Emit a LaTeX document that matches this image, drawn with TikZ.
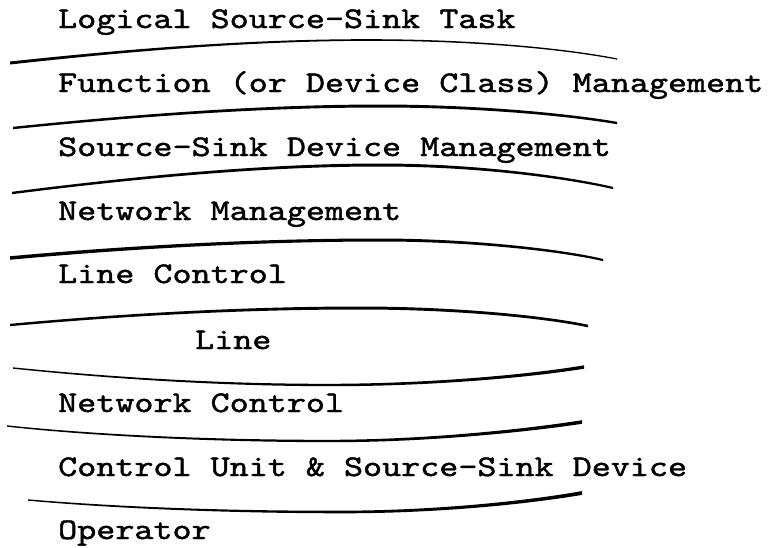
\documentclass[tikz,border=0pt]{standalone}
\usepackage{fontspec}
\newfontfamily\typewr{lmmono10-regular.otf}[FakeStretch=1.21, FakeBold=1.4]

% A hand-drawn separator, filled between two offset copies of the curve
% a -- (c,e) -- p -- (f,g) -- b, with stroke widths #2 at a, #3 at p, #4 at b.
\newcommand\sepline[4]{%
  \pgfmathsetmacro\sepwA{#2/2}\pgfmathsetmacro\sepwP{#3/2}\pgfmathsetmacro\sepwB{#4/2}%
  \pgfmathsetmacro\sepwC{(2*#2+#3)/6}\pgfmathsetmacro\sepwE{(#2+2*#3)/6}%
  \pgfmathsetmacro\sepwF{(2*#3+#4)/6}\pgfmathsetmacro\sepwG{(#3+2*#4)/6}%
  \fill[ink]
    ([yshift=\sepwA pt]a#1) .. controls ([yshift=\sepwC pt]c#1) and ([yshift=\sepwE pt]e#1) .. ([yshift=\sepwP pt]p#1)
    .. controls ([yshift=\sepwF pt]f#1) and ([yshift=\sepwG pt]g#1) .. ([yshift=\sepwB pt]b#1)
    -- ([yshift=-\sepwB pt]b#1) .. controls ([yshift=-\sepwG pt]g#1) and ([yshift=-\sepwF pt]f#1) .. ([yshift=-\sepwP pt]p#1)
    .. controls ([yshift=-\sepwE pt]e#1) and ([yshift=-\sepwC pt]c#1) .. ([yshift=-\sepwA pt]a#1) -- cycle;}

\begin{document}
\begin{tikzpicture}[x=1pt, y=-1pt,
  ink/.style={black},
  layer/.style={anchor=base west, inner sep=0pt, font=\typewr\fontsize{30}{36}\selectfont}]
\useasboundingbox (0,0) rectangle (772,547);
\fill[white] (0,0) rectangle (772,547);

% layer names, top to bottom
\node[layer] (task)  at (58,28)  {Logical Source-Sink Task};
\node[layer] (func)  at (58,92)  {Function (or Device Class) Management};
\node[layer] (ssdev) at (58,156) {Source-Sink Device Management};
\node[layer] (netm)  at (58,220) {Network Management};
\node[layer] (linc)  at (58,283) {Line Control};
\node[layer] (line)  at (195,349) {Line};
\node[layer] (netc)  at (58,412) {Network Control};
\node[layer] (cu)    at (58,476) {Control Unit \& Source-Sink Device};
\node[layer] (oper)  at (58,539) {Operator};

% separator geometry: end a, left controls c/e, turning point p, right controls f/g, end b
\coordinate (a1) at (10,63);  \coordinate (c1) at (130,50);  \coordinate (e1) at (250,40);
\coordinate (p1) at (370,40); \coordinate (f1) at (470,40);  \coordinate (g1) at (560,48);  \coordinate (b1) at (617,59);
\coordinate (a2) at (13,128); \coordinate (c2) at (130,116); \coordinate (e2) at (260,106);
\coordinate (p2) at (380,106);\coordinate (f2) at (480,106); \coordinate (g2) at (570,115); \coordinate (b2) at (617,123);
\coordinate (a3) at (12,193); \coordinate (c3) at (130,178); \coordinate (e3) at (260,165);
\coordinate (p3) at (380,165);\coordinate (f3) at (480,165); \coordinate (g3) at (570,178); \coordinate (b3) at (613,188);
\coordinate (a4) at (10,258); \coordinate (c4) at (130,247); \coordinate (e4) at (260,240);
\coordinate (p4) at (380,240);\coordinate (f4) at (470,240); \coordinate (g4) at (560,250); \coordinate (b4) at (603,260);
\coordinate (a5) at (10,325); \coordinate (c5) at (120,315); \coordinate (e5) at (240,308);
\coordinate (p5) at (360,308);\coordinate (f5) at (450,308); \coordinate (g5) at (540,316); \coordinate (b5) at (588,326);
\coordinate (a6) at (13,368); \coordinate (c6) at (110,378); \coordinate (e6) at (220,385);
\coordinate (p6) at (330,385);\coordinate (f6) at (430,385); \coordinate (g6) at (530,376); \coordinate (b6) at (584,367);
\coordinate (a7) at (7,426);  \coordinate (c7) at (100,436); \coordinate (e7) at (220,441);
\coordinate (p7) at (330,441);\coordinate (f7) at (430,441); \coordinate (g7) at (530,430); \coordinate (b7) at (582,422);
\coordinate (a8) at (28,500); \coordinate (c8) at (120,508); \coordinate (e8) at (230,512);
\coordinate (p8) at (340,512);\coordinate (f8) at (440,512); \coordinate (g8) at (530,502); \coordinate (b8) at (582,493);

% separators between the layers
\sepline{1}{3.0}{1.6}{1.3}
\sepline{2}{2.4}{3.0}{2.4}
\sepline{3}{2.4}{3.0}{2.2}
\sepline{4}{3.5}{3.0}{2.2}
\sepline{5}{2.4}{3.0}{2.6}
\sepline{6}{1.4}{2.4}{3.4}
\sepline{7}{1.4}{2.4}{3.6}
\sepline{8}{1.4}{2.6}{3.8}
\end{tikzpicture}
\end{document}
